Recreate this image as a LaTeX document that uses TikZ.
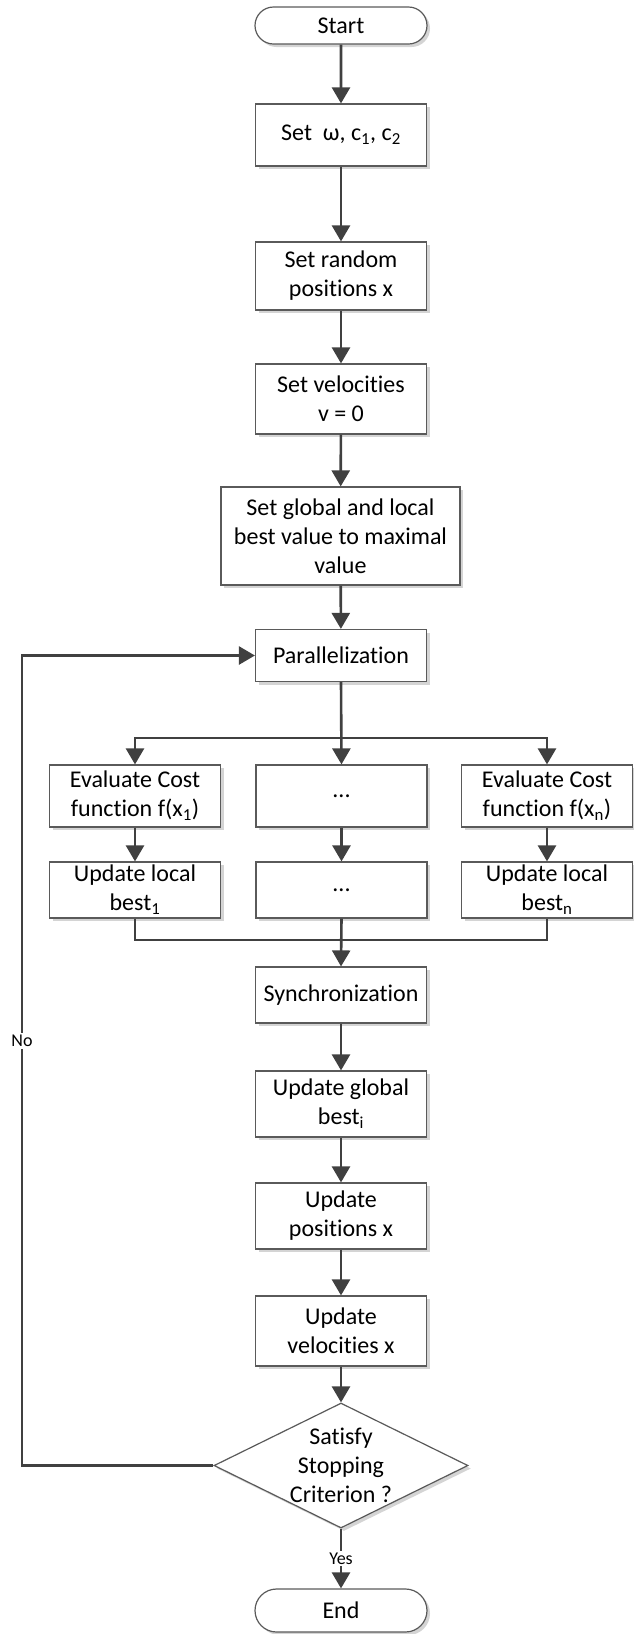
\documentclass[tikz,border=0pt]{standalone}
\usepackage{fontspec}
\setmainfont{Carlito}[Ligatures={NoCommon}]
\usetikzlibrary{arrows.meta,shapes.geometric,shapes.misc,shadows}

\definecolor{linegray}{HTML}{404040}
\definecolor{boxgray}{HTML}{5A5A5A}
\definecolor{shadowgray}{HTML}{D4D4D4}

\tikzset{
  boxshadow/.style={drop shadow={shadow xshift=3pt, shadow yshift=-3pt, fill=shadowgray, opacity=1}},
  procbox/.style={draw=boxgray, line width=1.2pt, fill=white, boxshadow,
    minimum width=171pt, inner sep=0pt, align=center,
    font=\fontsize{24}{29}\selectfont},
  termbox/.style={rounded rectangle, draw=boxgray, line width=1.2pt, fill=white, boxshadow,
    minimum width=172pt, minimum height=37pt, inner sep=0pt,
    font=\fontsize{24}{29}\selectfont},
  decbox/.style={diamond, draw=boxgray, line width=1.2pt, fill=white, boxshadow,
    minimum width=254pt, minimum height=125pt, inner sep=0pt},
  flow/.style={draw=linegray, line width=2.6pt},
  arr/.style={flow, -{Triangle[length=16pt,width=18pt]}},
  lbl/.style={fill=white, inner sep=2pt, font=\fontsize{18}{22}\selectfont}
}

\begin{document}
\begin{tikzpicture}[x=1pt, y=-1pt]
  \useasboundingbox (0,0) rectangle (633,1634);

  % main column
  \node[termbox] (start) at (341,25.5) {Start};
  \node[procbox, minimum height=62pt] (setw) at (341,135) {Set~ ω, c\textsubscript{1}, c\textsubscript{2}};
  \node[procbox, minimum height=68pt] (rand) at (341,276) {Set random\\positions x};
  \node[procbox, minimum height=70pt] (vel) at (341,399) {Set velocities\\v = 0};
  \node[procbox, minimum width=239pt, minimum height=98pt] (glob) at (340.5,536)
    {Set global and local\\best value to maximal\\value};
  \node[procbox, minimum height=52pt] (par) at (341,655.5) {Parallelization};

  % parallel branches
  \node[procbox, minimum height=62pt] (evalA) at (135,796) {Evaluate Cost\\function f(x\textsubscript{1})};
  \node[procbox, minimum height=62pt] (evalB) at (341.5,796) {...};
  \node[procbox, minimum height=62pt] (evalC) at (547,796) {Evaluate Cost\\function f(x\textsubscript{n})};
  \node[procbox, minimum height=56pt] (updA) at (135,890) {Update local\\best\textsubscript{1}};
  \node[procbox, minimum height=56pt] (updB) at (341.5,890) {...};
  \node[procbox, minimum height=56pt] (updC) at (547,890) {Update local\\best\textsubscript{n}};

  % after synchronisation
  \node[procbox, minimum height=56pt] (sync) at (341,995) {Synchronization};
  \node[procbox, minimum height=66pt] (ugb) at (341,1104) {Update global\\best\textsubscript{i}};
  \node[procbox, minimum height=66pt] (upos) at (341,1216) {Update\\positions x};
  \node[procbox, minimum height=70pt] (uvel) at (341,1331) {Update\\velocities x};
  \node[decbox] (dec) at (341,1465.5) {};
  \node[align=center, inner sep=0pt, font=\fontsize{24}{29}\selectfont] (dectext) at (dec.center)
    {Satisfy\\Stopping\\Criterion ?};
  \node[termbox, minimum height=43pt] (finish) at (341,1610.5) {End};

  \coordinate (fork) at (341,738);
  \coordinate (join) at (341,940);
  \coordinate (nopos) at (22,1041);

  % connectors
  \draw[arr] (start) -- (setw);
  \draw[arr] (setw) -- (rand);
  \draw[arr] (rand) -- (vel);
  \draw[arr] (vel) -- (glob);
  \draw[arr] (glob) -- (par);

  \draw[arr] (par.south) -- (evalB.north);
  \draw[arr] (fork) -| (evalA.north);
  \draw[arr] (fork) -| (evalC.north);
  \draw[arr] (evalA) -- (updA);
  \draw[arr] (evalB) -- (updB);
  \draw[arr] (evalC) -- (updC);

  \draw[flow] (updA.south) |- (join) -| (updC.south);
  \draw[arr] (updB.south) -- (sync.north);
  \draw[arr] (sync) -- (ugb);
  \draw[arr] (ugb) -- (upos);
  \draw[arr] (upos) -- (uvel);
  \draw[arr] (uvel) -- (dec.north);

  \draw[arr] (dec.west) -| (nopos) node[lbl] {No} |- (par.west);
  \draw[arr] (dec.south) -- node[lbl] {Yes} (finish.north);
\end{tikzpicture}
\end{document}
